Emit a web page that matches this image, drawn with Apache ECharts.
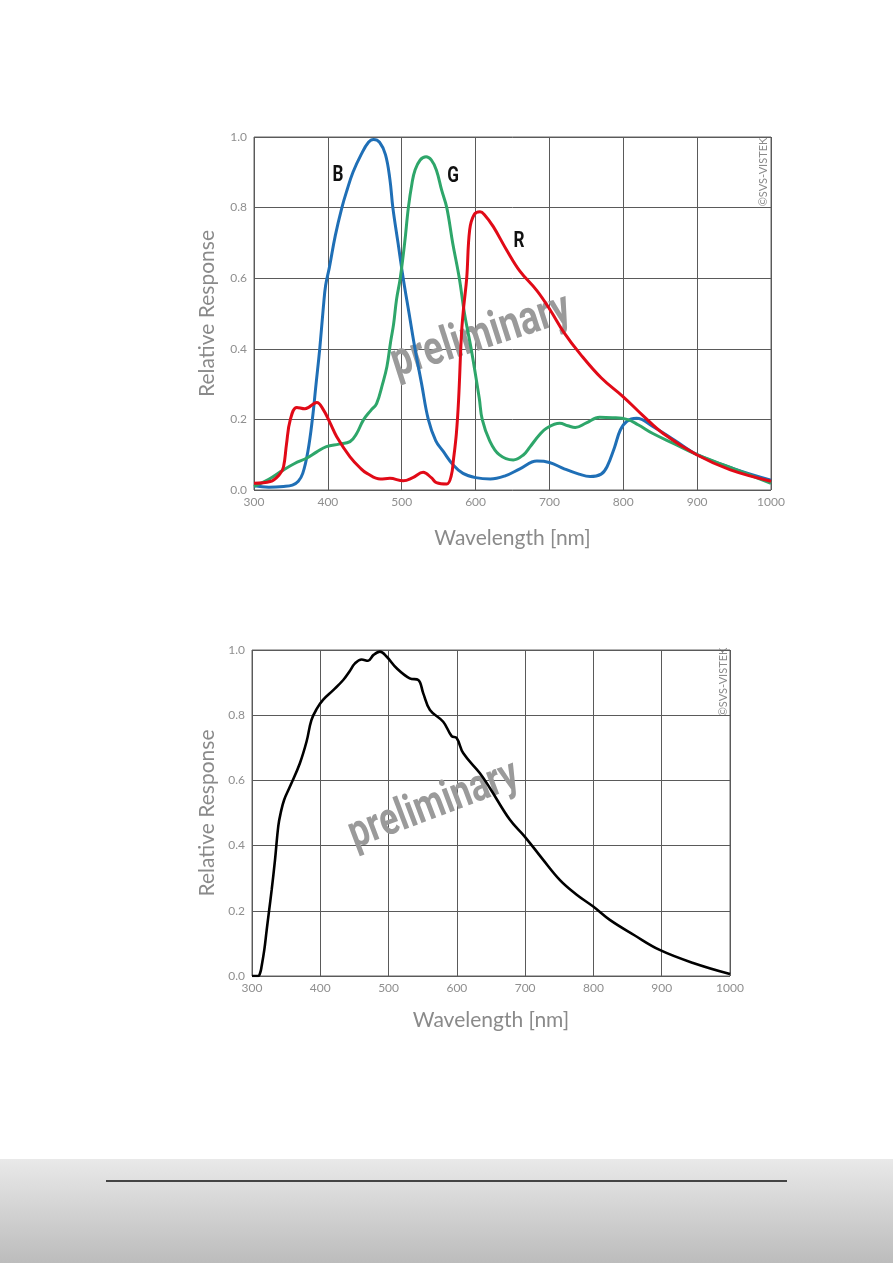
<!DOCTYPE html>
<html>
<head>
<meta charset="utf-8">
<script src="https://cdn.jsdelivr.net/npm/echarts@6/dist/echarts.min.js"></script>
<style>
  html, body { margin: 0; padding: 0; background: #fff; }
  #main { width: 893px; height: 1263px; }
</style>
</head>
<body>
<div id="main"></div>
<script>
var myChart = echarts.init(document.getElementById('main'));

var FONT = "Lato, 'Open Sans', sans-serif";
var BOLD = "Roboto, 'Open Sans', sans-serif";

// x: wavelength in nm, y: relative response
var xTicks = [300, 400, 500, 600, 700, 800, 900, 1000];
var yTicks = [0.0, 0.2, 0.4, 0.6, 0.8, 1.0];

// colour sensor (top chart)
var blueData = [
    [300, 0.012], [320, 0.008], [340, 0.01], [352, 0.014], [360, 0.025], [366, 0.047],
    [373, 0.11], [379, 0.2], [384, 0.3], [389, 0.4], [394, 0.52], [397, 0.58],
    [402, 0.63], [410, 0.72], [419, 0.8], [426, 0.85], [434, 0.9], [445, 0.95],
    [455, 0.985], [462, 0.993], [470, 0.985], [478, 0.95], [484, 0.88], [488, 0.8],
    [495, 0.7], [502, 0.6], [510, 0.5], [518, 0.4], [527, 0.3], [536, 0.2],
    [546, 0.14], [556, 0.11], [570, 0.07], [583, 0.047], [600, 0.035], [620, 0.031],
    [640, 0.04], [660, 0.06], [683, 0.082], [700, 0.078], [720, 0.06], [740, 0.045],
    [755, 0.038], [770, 0.045], [778, 0.066], [788, 0.12], [796, 0.17], [805, 0.195],
    [818, 0.203], [840, 0.18], [870, 0.14], [900, 0.1], [950, 0.06], [1000, 0.028]
];
var greenData = [
    [300, 0.01], [320, 0.03], [340, 0.057], [355, 0.075], [371, 0.09], [385, 0.108],
    [398, 0.123], [415, 0.13], [430, 0.137], [439, 0.16], [448, 0.198], [458, 0.225],
    [466, 0.245], [474, 0.3], [480, 0.35], [485, 0.42], [489, 0.47], [493, 0.54],
    [498, 0.6], [504, 0.7], [509, 0.8], [514, 0.87], [518, 0.906], [525, 0.935],
    [533, 0.944], [540, 0.935], [547, 0.906], [554, 0.85], [561, 0.8], [569, 0.7],
    [578, 0.6], [585, 0.5], [594, 0.4], [605, 0.26], [609, 0.2], [619, 0.14],
    [632, 0.1], [651, 0.085], [665, 0.1], [674, 0.123], [686, 0.155], [696, 0.175],
    [714, 0.189], [725, 0.182], [735, 0.177], [750, 0.19], [768, 0.206], [785, 0.205],
    [805, 0.2], [820, 0.185], [840, 0.16], [870, 0.13], [900, 0.1], [950, 0.06], [1000, 0.019]
];
var redData = [
    [300, 0.019], [322, 0.024], [335, 0.045], [340, 0.066], [344, 0.13], [349, 0.198],
    [358, 0.234], [369, 0.23], [385, 0.248], [394, 0.227], [403, 0.19], [412, 0.151],
    [430, 0.094], [445, 0.06], [453, 0.047], [471, 0.031], [484, 0.033], [502, 0.026],
    [515, 0.035], [529, 0.05], [540, 0.035], [547, 0.021], [561, 0.017], [567, 0.04],
    [570, 0.085], [574, 0.16], [577, 0.255], [581, 0.444], [584, 0.52], [588, 0.6],
    [592, 0.737], [598, 0.78], [606, 0.788], [612, 0.78], [624, 0.746], [642, 0.68],
    [660, 0.62], [683, 0.565], [701, 0.51], [720, 0.445], [741, 0.387], [770, 0.318],
    [800, 0.264], [827, 0.21], [854, 0.16], [900, 0.099], [945, 0.057], [1000, 0.025]
];

// mono sensor (bottom chart)
var monoData = [
    [300, 0], [309, 0], [312, 0.01], [314, 0.029], [318, 0.08], [321.5, 0.141],
    [325, 0.2], [328.8, 0.264], [333.7, 0.356], [338.5, 0.46], [342, 0.5], [347, 0.54],
    [355.6, 0.581], [370, 0.652], [380, 0.72], [387, 0.785], [395, 0.82], [404, 0.847],
    [419, 0.877], [433.6, 0.908], [443, 0.935], [450.8, 0.959], [460.5, 0.971], [470, 0.967],
    [478, 0.985], [487.4, 0.995], [497, 0.98], [511.9, 0.944], [531, 0.913], [543.5, 0.908],
    [550.8, 0.867], [560.6, 0.816], [580, 0.78], [592.4, 0.736], [599.7, 0.73], [609.5, 0.683],
    [633.8, 0.622], [648.5, 0.576], [677.7, 0.479], [699.7, 0.427], [725, 0.36], [751, 0.294],
    [775, 0.25], [799.7, 0.213], [824, 0.172], [860, 0.125], [897, 0.08], [946, 0.04], [1000, 0.006]
];

function xAxisCfg(idx, gap) {
    return {
        gridIndex: idx,
        type: 'value',
        min: xTicks[0],
        max: xTicks[xTicks.length - 1],
        interval: 100,
        name: 'Wavelength [nm]',
        nameLocation: 'middle',
        nameGap: gap,
        nameTextStyle: { color: '#8a8a8a', fontSize: 21, fontFamily: FONT },
        axisLine: { show: false },
        axisTick: { show: false },
        axisLabel: {
            color: '#8f8f8f', fontSize: 12, fontFamily: FONT, margin: 6,
            formatter: function (v) { return String(v); }
        },
        splitLine: { lineStyle: { color: '#5a5a5a', width: 1 } }
    };
}

function yAxisCfg(idx, gap) {
    return {
        gridIndex: idx,
        type: 'value',
        min: 0,
        max: 1,
        interval: 0.2,
        name: 'Relative Response',
        nameLocation: 'middle',
        nameGap: gap,
        nameTextStyle: { color: '#8a8a8a', fontSize: 21, fontFamily: FONT },
        axisLine: { show: false },
        axisTick: { show: false },
        axisLabel: {
            color: '#8f8f8f', fontSize: 12, fontFamily: FONT, margin: 7,
            formatter: function (v) { return v.toFixed(1); }
        },
        splitLine: { lineStyle: { color: '#5a5a5a', width: 1 } }
    };
}

function curve(name, data, color, width, idx) {
    return {
        name: name,
        type: 'line',
        xAxisIndex: idx,
        yAxisIndex: idx,
        data: data,
        smooth: 0.4,
        showSymbol: false,
        lineStyle: { color: color, width: width }
    };
}

function tag(text, x, y) {
    return { type: 'text', x: x, y: y, z: 10, scaleX: 0.78,
        style: { text: text, fill: '#111', fontSize: 22, fontFamily: BOLD, fontWeight: 'bold', align: 'center', verticalAlign: 'middle' } };
}

function stamp(x, y, rot, size) {
    return { type: 'text', x: x, y: y, rotation: rot, scaleX: 0.76, z: 1,
        style: { text: 'preliminary', fill: '#9a9a9a', fontFamily: BOLD, fontWeight: 'bold', fontSize: size, align: 'center', verticalAlign: 'middle' } };
}

function copy(x, y) {
    return { type: 'text', x: x, y: y, rotation: Math.PI / 2,
        style: { text: '©SVS-VISTEK', fill: '#8a8a8a', fontSize: 11, fontFamily: FONT, align: 'center', verticalAlign: 'middle' } };
}

option = {
    backgroundColor: '#ffffff',
    animation: false,
    grid: [
        { left: 254, top: 137, width: 517, height: 353, show: true, borderColor: '#666', borderWidth: 1 },
        { left: 252, top: 650, width: 478, height: 326, show: true, borderColor: '#666', borderWidth: 1 }
    ],
    xAxis: [xAxisCfg(0, 38), xAxisCfg(1, 34)],
    yAxis: [yAxisCfg(0, 36), yAxisCfg(1, 34)],
    series: [
        curve('B', blueData, '#1f6fb6', 3, 0),
        curve('G', greenData, '#2ea66a', 3, 0),
        curve('R', redData, '#e10a17', 3, 0),
        curve('Mono', monoData, '#000000', 2.6, 1)
    ],
    graphic: [
        stamp(481, 337, 0.31, 48),
        stamp(434, 806, 0.36, 46),
        copy(763, 172),
        copy(723, 682),
        tag('B', 338, 175),
        tag('G', 453, 176),
        tag('R', 519, 241),
        // page footer band
        { type: 'rect', shape: { x: 0, y: 1159, width: 893, height: 104 },
          style: { fill: new echarts.graphic.LinearGradient(0, 0, 0, 1, [
              { offset: 0, color: '#e9e9e9' }, { offset: 1, color: '#bcbcbc' }]) } },
        { type: 'line', shape: { x1: 106, y1: 1181, x2: 787, y2: 1181 },
          style: { stroke: '#111', lineWidth: 1.5 } }
    ]
};
myChart.setOption(option);
</script>
</body>
</html>
